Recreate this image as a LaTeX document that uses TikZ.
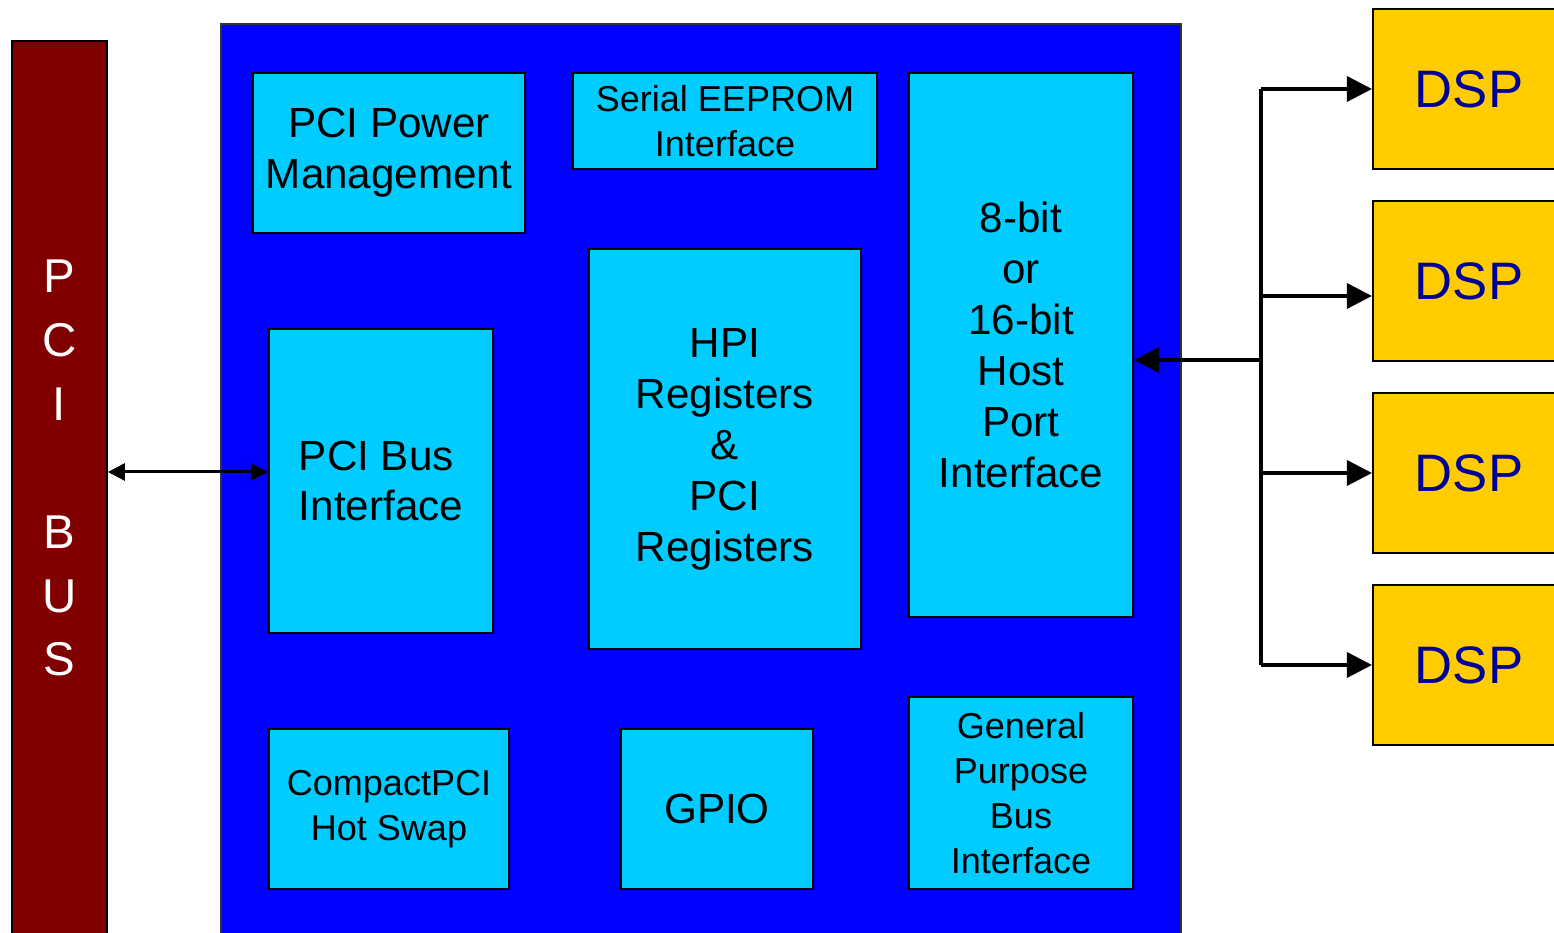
\documentclass[tikz,border=0pt]{standalone}
\usepackage{fontspec}
\setmainfont{Liberation Sans}
\usetikzlibrary{arrows.meta}
\definecolor{busred}{HTML}{800000}
\definecolor{chipblue}{HTML}{0000FF}
\definecolor{unitcyan}{HTML}{00CCFF}
\definecolor{dspgold}{HTML}{FFCC00}
\definecolor{dsptext}{HTML}{000099}
\tikzset{
  unit/.style={draw=black, line width=1.2pt, fill=unitcyan, align=center,
    inner sep=0pt, font=\fontsize{24}{29}\selectfont},
  small unit/.style={unit, font=\fontsize{20.5}{25.6}\selectfont},
  boxsize/.style 2 args={minimum width=#1cm, minimum height=#2cm},
  dsp/.style={draw=black, line width=1.2pt, fill=dspgold, text=dsptext,
    minimum width=3.84cm, minimum height=3.2cm, inner sep=0pt,
    font=\fontsize{30}{36}\selectfont},
  link/.style={line width=2pt, -{Triangle[length=0.5cm,width=0.5cm]}},
}
\begin{document}
\begin{tikzpicture}
  \useasboundingbox (0,0) rectangle (31.08,18.66);
  % bus bar and chip
  \node (bar) at (1.19,8.25) [draw=black, line width=1pt, fill=busred,
    minimum width=1.9cm, minimum height=19.18cm, inner sep=0pt] {};
  \node (buslbl) at (1.19,9.3) [text=white, align=center,
    font=\fontsize{27}{36.4}\selectfont] {P\\C\\I\\[36.4pt]B\\U\\S};
  \node (chip) at (14.02,8.42) [draw=black!80, line width=1pt, fill=chipblue,
    minimum width=19.2cm, minimum height=19.52cm, inner sep=0pt] {};
  % units inside the chip
  \node (pm) at (7.78,15.6) [unit, boxsize={5.44}{3.2}, text depth=0.2cm] {PCI Power\\Management};
  \node (eeprom) at (14.5,16.24) [small unit, boxsize={6.08}{1.92}] {Serial EEPROM\\Interface};
  \node (host) at (20.42,11.76) [unit, boxsize={4.48}{10.88}]
    {8-bit\\or\\16-bit\\Host\\Port\\Interface};
  \node (regs) at (14.5,9.68) [unit, boxsize={5.44}{8}]
    {HPI\\Registers\\\&\\PCI\\Registers};
  \node (pbi) at (7.62,9.04) [unit, align=left, boxsize={4.48}{6.08}] {PCI Bus\\Interface};
  \node (hotswap) at (7.78,2.48) [small unit, boxsize={4.8}{3.2}] {CompactPCI\\Hot Swap};
  \node (gpio) at (14.34,2.48) [unit, boxsize={3.84}{3.2}] {GPIO};
  \node (gpbus) at (20.42,2.8) [small unit, boxsize={4.48}{3.84}]
    {General\\Purpose\\Bus\\Interface};
  % DSPs
  \foreach \y [count=\i] in {16.88,13.04,9.2,5.36}
    \node (d\i) at (29.38,\y) [dsp] {DSP};
  \coordinate (trunk) at (25.22,0);
  \coordinate (tap) at ([yshift=-0.3cm]host.east -| trunk);
  % connectors
  \draw[line width=1.7pt, {Triangle[length=0.34cm,width=0.34cm]}-{Triangle[length=0.34cm,width=0.34cm]}]
    (bar.east |- 0,9.22) -- (pbi.west |- 0,9.22);
  \draw[line width=2pt] (d1.west -| trunk) -- (d4.west -| trunk);
  \draw[link] (tap) -- ([yshift=-0.3cm]host.east);
  \draw[link] (d1.west -| trunk) -- (d1.west);
  \draw[link] ([yshift=-0.3cm]d2.west -| trunk) -- ([yshift=-0.3cm]d2.west);
  \draw[link] (d3.west -| trunk) -- (d3.west);
  \draw[link] (d4.west -| trunk) -- (d4.west);
\end{tikzpicture}
\end{document}
